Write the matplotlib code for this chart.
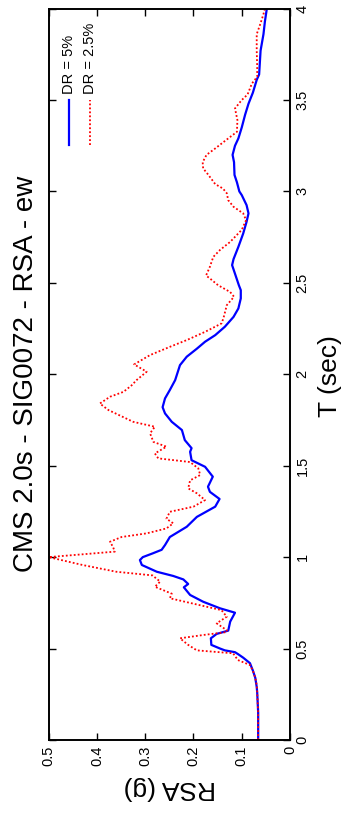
import matplotlib
matplotlib.use("Agg")
import matplotlib.pyplot as plt

plt.rcParams['font.family'] = ['Liberation Sans', 'DejaVu Sans']

# Response spectrum, damping ratio 5 %
t_dr5 = [0.00, 0.15, 0.26, 0.29, 0.34, 0.38, 0.42, 0.45, 0.47, 0.48, 0.49, 0.50,
         0.52, 0.556, 0.58, 0.598, 0.647, 0.696, 0.72, 0.756, 0.793, 0.835, 0.853,
         0.878, 0.897, 0.92, 0.957, 0.984, 1.00, 1.02, 1.04, 1.066, 1.11, 1.166,
         1.22, 1.276, 1.318, 1.357, 1.385, 1.44, 1.494, 1.53, 1.576, 1.596, 1.64,
         1.695, 1.74, 1.786, 1.82, 1.868, 1.914, 1.968, 2.05, 2.096, 2.14, 2.178,
         2.214, 2.26, 2.314, 2.36, 2.415, 2.46, 2.487, 2.55, 2.597, 2.63, 2.697,
         2.77, 2.834, 2.88, 2.925, 2.98, 3.00, 3.05, 3.09, 3.16, 3.20, 3.25, 3.29,
         3.35, 3.42, 3.48, 3.54, 3.61, 3.64, 3.77, 3.86, 3.93, 4.00]
rsa_dr5 = [0.066, 0.066, 0.068, 0.069, 0.072, 0.077, 0.083, 0.097, 0.108, 0.114,
           0.135, 0.145, 0.163, 0.164, 0.152, 0.128, 0.124, 0.114, 0.145, 0.180,
           0.207, 0.220, 0.211, 0.221, 0.242, 0.276, 0.307, 0.311, 0.305, 0.285,
           0.266, 0.259, 0.249, 0.214, 0.193, 0.155, 0.146, 0.166, 0.170, 0.160,
           0.176, 0.204, 0.207, 0.204, 0.218, 0.224, 0.245, 0.259, 0.264, 0.259,
           0.249, 0.238, 0.228, 0.214, 0.193, 0.176, 0.155, 0.135, 0.117, 0.107,
           0.102, 0.102, 0.106, 0.114, 0.120, 0.117, 0.107, 0.097, 0.090, 0.086,
           0.090, 0.100, 0.105, 0.110, 0.115, 0.116, 0.119, 0.114, 0.107, 0.100,
           0.093, 0.086, 0.077, 0.069, 0.064, 0.061, 0.055, 0.052, 0.048]

# Response spectrum, damping ratio 2.5 %
t_dr25 = [0.00, 0.15, 0.26, 0.30, 0.34, 0.38, 0.41, 0.437, 0.474, 0.49, 0.52, 0.556,
          0.574, 0.59, 0.60, 0.638, 0.674, 0.71, 0.775, 0.80, 0.838, 0.866, 0.90,
          0.92, 0.957, 1.00, 1.03, 1.057, 1.084, 1.11, 1.13, 1.157, 1.185, 1.21,
          1.248, 1.276, 1.312, 1.349, 1.376, 1.42, 1.449, 1.485, 1.52, 1.54, 1.567,
          1.604, 1.63, 1.677, 1.713, 1.74, 1.804, 1.84, 1.877, 1.904, 1.94, 1.968,
          2.014, 2.054, 2.105, 2.15, 2.187, 2.232, 2.278, 2.306, 2.378, 2.424, 2.45,
          2.487, 2.524, 2.54, 2.588, 2.642, 2.68, 2.724, 2.79, 2.843, 2.88, 2.916,
          2.952, 2.99, 3.016, 3.04, 3.09, 3.126, 3.16, 3.20, 3.235, 3.29, 3.326,
          3.39, 3.454, 3.50, 3.53, 3.59, 3.627, 3.68, 3.77, 3.86, 3.92, 3.97, 4.00]
rsa_dr25 = [0.066, 0.066, 0.068, 0.069, 0.072, 0.077, 0.083, 0.108, 0.118, 0.193,
            0.211, 0.228, 0.180, 0.131, 0.131, 0.152, 0.131, 0.142, 0.249, 0.245,
            0.280, 0.269, 0.285, 0.360, 0.430, 0.500, 0.363, 0.367, 0.373, 0.349,
            0.297, 0.256, 0.242, 0.256, 0.249, 0.200, 0.176, 0.193, 0.211, 0.207,
            0.186, 0.190, 0.207, 0.273, 0.280, 0.256, 0.283, 0.290, 0.280, 0.325,
            0.376, 0.394, 0.373, 0.345, 0.328, 0.318, 0.297, 0.323, 0.290, 0.249,
            0.214, 0.176, 0.142, 0.138, 0.131, 0.116, 0.124, 0.149, 0.166, 0.174,
            0.166, 0.159, 0.145, 0.124, 0.100, 0.091, 0.097, 0.117, 0.128, 0.131,
            0.139, 0.155, 0.169, 0.180, 0.181, 0.173, 0.155, 0.128, 0.110, 0.109,
            0.114, 0.100, 0.088, 0.079, 0.068, 0.068, 0.069, 0.069, 0.061, 0.055,
            0.052]

rsa_ticks = [0, 0.1, 0.2, 0.3, 0.4, 0.5]
rsa_labels = ["0", "0.1", "0.2", "0.3", "0.4", "0.5"]
t_ticks = [0, 0.5, 1, 1.5, 2, 2.5, 3, 3.5, 4]
t_labels = ["0", "0.5", "1", "1.5", "2", "2.5", "3", "3.5", "4"]

fig = plt.figure(figsize=(3.42, 8.18), dpi=100)
ax = fig.add_axes([0.1424, 0.0954, 0.7056, 0.8941])

ax.plot(rsa_dr5, t_dr5, color='#0000ff', lw=1.6, solid_joinstyle='round')
ax.plot(rsa_dr25, t_dr25, color='#ff0000', lw=1.3, linestyle=(0, (1, 1.2)))

ax.set_xlim(0.5, 0)
ax.set_ylim(0, 4)

ax.set_xticks(rsa_ticks)
ax.set_xticklabels(rsa_labels)
ax.set_yticks(t_ticks)
ax.set_yticklabels(t_labels)

ax.tick_params(axis='x', direction='in', top=True, bottom=True, length=5, width=1,
               labelsize=10.5, labelrotation=90, pad=4)
ax.tick_params(axis='y', direction='in', left=True, right=True, length=5, width=1,
               labelleft=False, labelright=True, labelsize=10.5, labelrotation=90, pad=4)
for lab in ax.get_yticklabels():
    lab.set_verticalalignment('center')

for sp in ax.spines.values():
    sp.set_linewidth(1.4)

# legend drawn in rotated orientation
ax.plot([0.084, 0.084], [0.8135, 0.875], transform=ax.transAxes,
        color='#0000ff', lw=1.6)
ax.plot([0.171, 0.171], [0.8135, 0.875], transform=ax.transAxes,
        color='#ff0000', lw=1.3, linestyle=(0, (1, 1.2)))
ax.text(0.084, 0.883, "DR = 5%", transform=ax.transAxes, rotation=90,
        ha='center', va='bottom', fontsize=10.5)
ax.text(0.171, 0.883, "DR = 2.5%", transform=ax.transAxes, rotation=90,
        ha='center', va='bottom', fontsize=10.5)

fig.text(26 / 342, 1 - 374 / 818, "CMS 2.0s - SIG0072 - RSA - ew", rotation=90,
         ha='center', va='center', fontsize=20)
fig.text(330 / 342, 1 - 376 / 818, "T (sec)", rotation=90,
         ha='center', va='center', fontsize=19)
fig.text(170 / 342, 1 - 788 / 818, "RSA (g)", rotation=180,
         ha='center', va='center', fontsize=19)

fig.savefig("out.png", dpi=100)
